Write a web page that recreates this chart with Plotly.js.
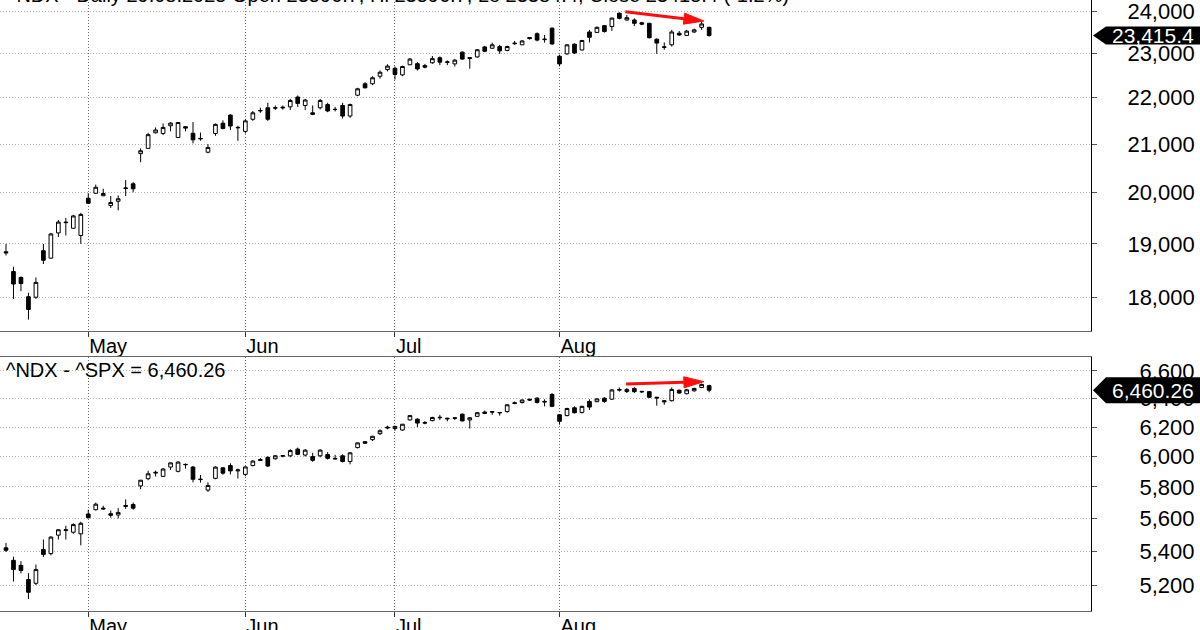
<!DOCTYPE html>
<html><head><meta charset="utf-8">
<script src="https://cdn.plot.ly/plotly-3.0.1.min.js"></script>
<style>
html,body{margin:0;padding:0;overflow:hidden;background:#fff;width:1200px;height:630px}
#chart{position:absolute;left:0;top:-20px;width:1200px;height:680px}
</style>
</head><body><div id="chart"></div><script>
// ---------- DATA ----------
const dates = [
 "2025-04-15","2025-04-16","2025-04-17","2025-04-21","2025-04-22","2025-04-23","2025-04-24","2025-04-25","2025-04-28","2025-04-29","2025-04-30",
 "2025-05-01","2025-05-02","2025-05-05","2025-05-06","2025-05-07","2025-05-08","2025-05-09","2025-05-12","2025-05-13","2025-05-14",
 "2025-05-15","2025-05-16","2025-05-19","2025-05-20","2025-05-21","2025-05-22","2025-05-23","2025-05-27","2025-05-28","2025-05-29","2025-05-30",
 "2025-06-02","2025-06-03","2025-06-04","2025-06-05","2025-06-06","2025-06-09","2025-06-10","2025-06-11","2025-06-12","2025-06-13",
 "2025-06-16","2025-06-17","2025-06-18","2025-06-20","2025-06-23","2025-06-24","2025-06-25","2025-06-26","2025-06-27","2025-06-30",
 "2025-07-01","2025-07-02","2025-07-03","2025-07-07","2025-07-08","2025-07-09","2025-07-10","2025-07-11","2025-07-14","2025-07-15",
 "2025-07-16","2025-07-17","2025-07-18","2025-07-21","2025-07-22","2025-07-23","2025-07-24","2025-07-25","2025-07-28","2025-07-29","2025-07-30","2025-07-31",
 "2025-08-01","2025-08-04","2025-08-05","2025-08-06","2025-08-07","2025-08-08","2025-08-11","2025-08-12","2025-08-13","2025-08-14",
 "2025-08-15","2025-08-18","2025-08-19","2025-08-20","2025-08-21","2025-08-22","2025-08-25","2025-08-26","2025-08-27","2025-08-28","2025-08-29"
];
const ndxOpen = [18850,18480,18370,18020,18010,18870,18730,19210,19420,19300,19160,
 19890,19990,19940,19745,19830,20085,20180,20800,20910,21240,21224,21390,21140,21370,21230,21110,20830,21225,21445,21620,21345,
 21270,21530,21710,21780,21770,21775,21800,22015,21830,21670,21780,21850,21740,21830,21600,22056,22310,22310,22480,22630,
 22660,22510,22740,22765,22720,22785,22900,22795,22760,23030,22905,22920,23150,23120,23160,23070,23225,23200,23370,23460,23320,23590,
 22935,22990,23215,23080,23500,23490,23650,23630,23945,23785,23785,23720,23705,23330,23140,23200,23470,23420,23500,23610,23610];
const ndxHigh = [19000,18570,18390,18090,18370,19000,19210,19460,19500,19560,19600,
 19990,20165,20080,19935,19946,20255,20213,20910,21240,21354,21440,21470,21470,21385,21470,21245,21000,21440,21508,21637,21390,
 21529,21708,21780,21890,21830,21830,21976,22050,21976,21830,21976,21890,21800,21890,21870,22220,22345,22480,22610,22750,
 22700,22720,22895,22800,22760,22940,22930,22840,22870,23045,22915,23100,23175,23250,23200,23180,23290,23310,23380,23490,23430,23610,
 22970,23210,23230,23315,23550,23630,23666,23840,23970,23904,23825,23740,23720,23350,23255,23550,23525,23550,23580,23745,23625];
const ndxLow = [18780,17980,18120,17610,17980,18620,18720,19130,19160,19290,19000,
 19780,19980,19930,19697,19650,19934,20012,20620,20900,21224,21190,21270,21130,21270,21015,21070,20810,21175,21316,21300,21070,
 21224,21495,21670,21495,21730,21740,21730,21800,21730,21620,21745,21684,21700,21545,21560,22034,22205,22280,22425,22590,
 22405,22480,22730,22610,22660,22760,22730,22730,22700,22856,22650,22900,23030,23110,22990,23050,23200,23190,23320,23280,23250,23200,
 22705,22970,22990,23070,23255,23480,23485,23525,23800,23770,23640,23660,23350,22990,23085,23160,23410,23410,23480,23550,23390];
const ndxClose = [18830,18250,18258,17790,18280,18690,19190,19420,19410,19540,19570,
 19790,20110,19985,19805,19880,20095,20080,20860,21200,21300,21354,21447,21460,21340,21090,21120,20930,21420,21330,21385,21355,
 21495,21670,21720,21530,21780,21790,21940,21875,21950,21637,21940,21710,21745,21600,21850,22198,22220,22445,22570,22710,
 22520,22700,22870,22645,22685,22880,22800,22805,22845,22870,22885,23085,23050,23200,23060,23160,23235,23290,23345,23310,23330,23220,
 22760,23200,23010,23300,23375,23610,23510,23830,23825,23840,23705,23685,23365,23240,23150,23500,23430,23520,23550,23690,23415.42];

const spxOpen = [5420,5345,5315,5232,5210,5410,5385,5497,5525,5515,5505,
 5628,5655,5665,5630,5622,5675,5688,5807,5854,5896,5869,5930,5902,5948,5930,5848,5780,5856,5925,5940,5905,
 5882,5940,5980,5995,5985,6002,6005,6050,6010,6000,6005,6014,5988,6005,5967,6060,6100,6114,6155,6200,
 6190,6180,6250,6255,6232,6245,6265,6262,6265,6290,6250,6275,6305,6308,6302,6308,6365,6372,6395,6403,6375,6430,
 6286,6280,6335,6302,6380,6378,6403,6396,6460,6451,6473,6452,6450,6410,6385,6385,6460,6435,6456,6480,6493];
const spxHigh = [5450,5367,5340,5269,5320,5470,5490,5535,5555,5570,5580,
 5655,5700,5680,5650,5665,5720,5700,5845,5906,5907,5924,5959,5968,5954,5938,5878,5830,5935,5930,5955,5920,
 5935,5975,5990,6001,6010,6010,6050,6060,6050,6025,6050,6030,6012,6015,6030,6095,6105,6140,6185,6210,
 6210,6222,6285,6262,6242,6272,6285,6265,6270,6295,6270,6305,6315,6310,6305,6360,6380,6395,6400,6410,6395,6440,
 6290,6335,6345,6350,6395,6402,6410,6468,6480,6475,6482,6455,6455,6412,6390,6480,6465,6468,6478,6508,6500];
const spxLow = [5395,5220,5268,5120,5200,5365,5375,5470,5470,5505,5435,
 5600,5650,5655,5605,5600,5660,5655,5786,5844,5868,5867,5912,5895,5920,5830,5828,5768,5850,5880,5882,5855,
 5870,5935,5970,5930,5980,5995,5995,6010,6000,5965,5995,5980,5980,5960,5948,6055,6085,6105,6145,6185,
 6175,6175,6245,6200,6220,6240,6250,6240,6250,6240,6190,6270,6290,6285,6280,6300,6360,6365,6385,6365,6345,6340,
 6217,6275,6295,6295,6320,6375,6370,6390,6450,6440,6440,6440,6405,6350,6356,6380,6435,6430,6450,6475,6445];
const spxClose = [5405,5290,5285,5158,5290,5380,5485,5530,5530,5562,5570,
 5605,5690,5660,5620,5638,5682,5665,5844,5886,5892,5917,5958,5963,5946,5850,5850,5810,5930,5890,5905,5911,
 5931,5970,5975,5937,6005,6006,6040,6015,6043,5975,6043,5988,5985,5967,6025,6092,6090,6137,6175,6195,
 6205,6220,6280,6228,6228,6267,6268,6258,6262,6243,6265,6300,6295,6305,6300,6356,6370,6390,6390,6373,6380,6345,
 6240,6330,6300,6345,6340,6398,6380,6462,6465,6466,6450,6449,6410,6405,6378,6466,6440,6463,6473,6502,6460.26];

const monthNames = ["Jan","Feb","Mar","Apr","May","Jun","Jul","Aug","Sep","Oct","Nov","Dec"];
const ndxTicks = [18000,19000,20000,21000,22000,23000,24000];
const spxTicks = [5200,5400,5600,5800,6000,6200,6400,6600];
// hand-drawn trend arrows (bar index, price)
const ndxTrendX = [82.8, 93.3], ndxTrendY = [23983, 23760];
const spxTrendX = [82.9, 93.3], spxTrendY = [6505, 6522];
const titleText = "^NDX - Daily 29.08.2025 Open 23596.7, Hi 23596.7, Lo 23384.4, Close 23415.4 (-1.2%)";

// ---------- BUILD ----------
const idx = dates.map((d, i) => i);
const tickIdx = [], tickTxt = [];
dates.forEach((d, i) => {
  if (i > 0 && d.slice(5, 7) !== dates[i - 1].slice(5, 7)) { tickIdx.push(i); tickTxt.push(monthNames[+d.slice(5, 7) - 1]); }
});
const fmt = v => v.toLocaleString("en-US");
const FONT = '"Liberation Sans", Arial, sans-serif';
const RED = "#ff0d0d";
const X_RANGE = [-0.802, 145.05];
const PLOT_W = 1091;
const TOP_R = [Math.log10(17410), Math.log10(24511)], TOP_H = 341;
const BOT_R = [Math.log10(5051.6), Math.log10(6703.7)], BOT_H = 254;

function candle(o, h, l, c, xa, ya) {
  return {type: "candlestick", x: idx, open: o, high: h, low: l, close: c, xaxis: xa, yaxis: ya,
    increasing: {line: {color: "#000", width: 1}, fillcolor: "#fff"},
    decreasing: {line: {color: "#000", width: 1}, fillcolor: "#000"},
    whiskerwidth: 0, hoverinfo: "skip", showlegend: false};
}
function arrowShapes(xref, yref, tx, ty, yr, ph) {
  const dx = (tx[1] - tx[0]) * PLOT_W / (X_RANGE[1] - X_RANGE[0]);
  const dy = (Math.log10(ty[1]) - Math.log10(ty[0])) * ph / (yr[1] - yr[0]);
  const len = Math.hypot(dx, dy), ux = dx / len, uy = dy / len;
  const L = 20, W = 5.5, bx = -L * ux, by = -L * uy, nx = -uy, ny = ux;
  const f = v => v.toFixed(2);
  const common = {xref, yref, xsizemode: "pixel", ysizemode: "pixel", xanchor: tx[1], yanchor: ty[1], layer: "above"};
  return [
    Object.assign({}, common, {type: "path", path: `M ${f(-dx)} ${f(-dy)} L ${f(bx)} ${f(by)}`, line: {color: RED, width: 3}}),
    Object.assign({}, common, {type: "path", path: `M 0 0 L ${f(bx + W * nx)} ${f(by + W * ny)} L ${f(bx - W * nx)} ${f(by - W * ny)} Z`,
      fillcolor: RED, line: {color: RED, width: 1}})
  ];
}
function tagShape(yref, val, h) {
  return {type: "path", xref: "paper", yref, xsizemode: "pixel", ysizemode: "pixel", xanchor: 1, yanchor: val,
    path: `M 2 0 L 15 ${h} L 140 ${h} L 140 ${-h} L 15 ${-h} Z`, fillcolor: "#000", line: {color: "#000", width: 0}, layer: "above"};
}
function xAxis(anchor) {
  return {anchor, domain: [0, 1], range: X_RANGE, tickmode: "array", tickvals: tickIdx, ticktext: tickTxt,
    showgrid: true, gridcolor: "#6e6e6e", griddash: "1px,2px", gridwidth: 1, ticks: "outside", ticklen: 5, tickcolor: "#333",
    ticklabelposition: "outside right", ticklabelstandoff: -3, showline: true, mirror: true, linecolor: "#666", linewidth: 1, zeroline: false,
    rangeslider: {visible: false}, fixedrange: true, tickfont: {size: 20, color: "#000"}};
}
function yAxis(anchor, dom, rng, ticks, standoff) {
  return {anchor, domain: dom, type: "log", side: "right", range: rng, tickmode: "array", tickvals: ticks, ticktext: ticks.map(fmt),
    showgrid: true, gridcolor: "#b4b4b4", griddash: "1px,2px", gridwidth: 1, ticks: "outside", ticklen: 5, tickcolor: "#555",
    showline: true, mirror: true, linecolor: "#000", linewidth: 1, zeroline: false, fixedrange: true,
    tickfont: {size: 22, color: "#000"}, ticklabelstandoff: standoff};
}
const lastN = ndxClose[ndxClose.length - 1], lastS = spxClose[spxClose.length - 1];
const data = [candle(ndxOpen, ndxHigh, ndxLow, ndxClose, "x", "y"), candle(spxOpen, spxHigh, spxLow, spxClose, "x2", "y2")];
const layout = {
  width: 1200, height: 680, margin: {l: 0, r: 109, t: 10, b: 49},
  paper_bgcolor: "#fff", plot_bgcolor: "#fff", showlegend: false, hovermode: false,
  font: {family: FONT, color: "#000", size: 20},
  xaxis: xAxis("y"), xaxis2: xAxis("y2"),
  yaxis: yAxis("x", [0.45089, 1], TOP_R, ndxTicks, 26),
  yaxis2: yAxis("x2", [0, 0.40902], BOT_R, spxTicks, 38),
  shapes: [].concat(
    arrowShapes("x", "y", ndxTrendX, ndxTrendY, TOP_R, TOP_H),
    arrowShapes("x2", "y2", spxTrendX, spxTrendY, BOT_R, BOT_H),
    [tagShape("y", lastN, 9), tagShape("y2", lastS, 13)]
  ),
  annotations: [
    {xref: "paper", yref: "paper", x: 0, y: 1, xanchor: "left", yanchor: "top", xshift: 5, yshift: 8, showarrow: false,
      text: titleText, font: {size: 20, color: "#000"}},
    {xref: "paper", yref: "y2 domain", x: 0, y: 1, xanchor: "left", yanchor: "top", xshift: 4, yshift: 0, showarrow: false,
      text: "^NDX - ^SPX = " + lastS.toLocaleString("en-US", {minimumFractionDigits: 2}), font: {size: 20, color: "#000"}},
    {xref: "paper", yref: "y", x: 1, y: Math.log10(lastN), xanchor: "left", yanchor: "middle", xshift: 19, showarrow: false,
      text: lastN.toLocaleString("en-US", {minimumFractionDigits: 1, maximumFractionDigits: 1}), font: {size: 21, color: "#fff"}},
    {xref: "paper", yref: "y2", x: 1, y: Math.log10(lastS), xanchor: "left", yanchor: "middle", xshift: 19, showarrow: false,
      text: lastS.toLocaleString("en-US", {minimumFractionDigits: 2}), font: {size: 21, color: "#fff"}}
  ]
};
Plotly.newPlot("chart", data, layout, {staticPlot: true, displayModeBar: false});
</script></body></html>
